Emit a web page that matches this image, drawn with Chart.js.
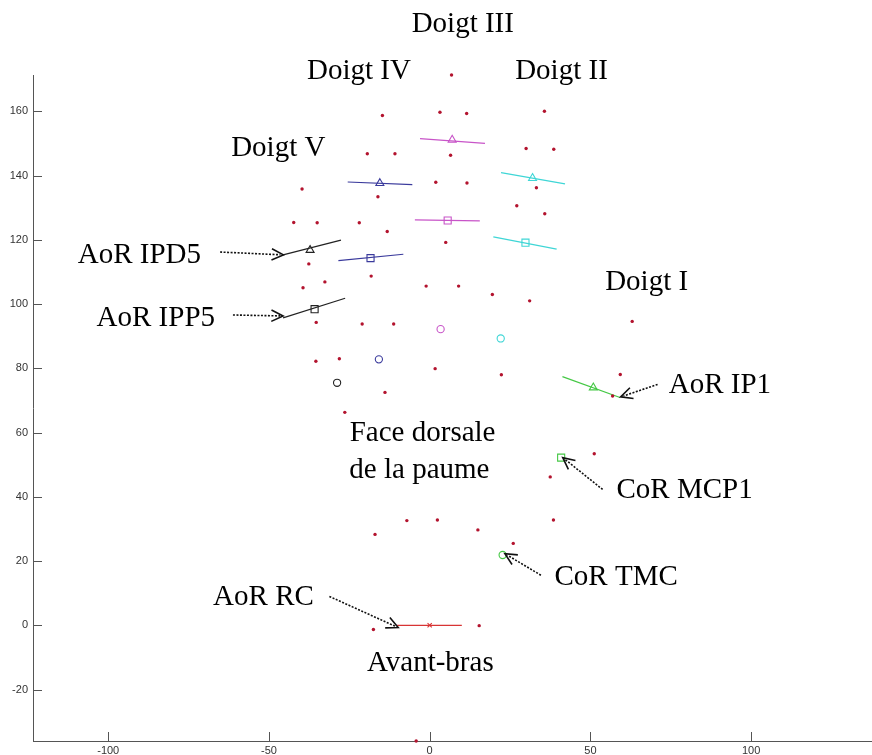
<!DOCTYPE html>
<html>
<head>
<meta charset="utf-8">
<script src="https://cdn.jsdelivr.net/npm/chart.js@4"></script>
<style>
  body { margin: 0; background: #fff; }
  canvas { display: block; }
</style>
</head>
<body>
<canvas id="main" width="872" height="755"></canvas>
<script>
// markers on the back of the hand (red dots)
const dotX = [6.8, -14.7, 3.2, 11.5, 35.7, -19.4, -10.8, 6.5, 30.0, 38.6,
  -16.1, 1.9, 11.6, 33.2, -39.7, 27.1, 35.8, -42.3, -35.0, -21.9,
  -13.2, 5.0, -37.6, -18.2, -39.4, -32.6, -1.1, 9.0, 19.5, 31.1,
  -35.3, -21.0, -11.2, -35.4, -28.1, 1.7, 22.3, -13.9, -26.4, 63.0,
  59.3, 56.9, 51.2, 37.5, -7.1, 2.4, -17.0, 15.0, 38.5, 26.0,
  -17.5, 15.4, -4.2];
const dotY = [171.3, 158.7, 159.7, 159.3, 160.0, 146.8, 146.8, 146.3, 148.4, 148.2,
  133.4, 137.9, 137.7, 136.2, 135.8, 130.6, 128.1, 125.4, 125.3, 125.3,
  122.6, 119.2, 112.5, 108.7, 105.1, 106.9, 105.6, 105.6, 103.0, 101.0,
  94.3, 93.8, 93.8, 82.2, 83.0, 79.9, 78.0, 72.5, 66.3, 94.6,
  78.1, 71.4, 53.4, 46.2, 32.6, 32.8, 28.3, 29.7, 32.8, 25.5,
  -1.3, -0.1, -36.0];

// axes of rotation: centre point and both ends of the axis segment
const aorNames = ['IPD2', 'IPP2', 'IPD3', 'IPP3', 'IPD4', 'IPP4', 'IPD5', 'IPP5', 'IP1', 'RC'];
const aorX = [32.0, 29.8, 7.0, 5.6, -15.5, -18.4, -37.2, -35.8, 50.9, 0];
const aorY = [139.2, 119.1, 151.1, 126.0, 137.6, 114.3, 116.8, 98.4, 74.0, 0];
const aorX1 = [22.2, 19.8, -3.0, -4.6, -25.5, -28.4, -45.6, -45.6, 41.3, -10.1];
const aorY1 = [140.9, 120.9, 151.5, 126.2, 138.0, 113.5, 115.3, 95.7, 77.4, 0];
const aorX2 = [42.1, 39.5, 17.2, 15.6, -5.4, -8.2, -27.6, -26.3, 59.2, 10.0];
const aorY2 = [137.4, 117.1, 150.0, 125.9, 137.2, 115.5, 119.9, 101.8, 70.9, 0];

// centres of rotation
const corNames = ['MCP2', 'MCP3', 'MCP4', 'MCP5', 'MCP1', 'TMC'];
const corX = [22.1, 3.4, -15.8, -28.8, 40.9, 22.7];
const corY = [89.3, 92.2, 82.8, 75.5, 52.2, 21.9];

const xTicks = [-100, -50, 0, 50, 100];
const yTicks = [-20, 0, 20, 40, 60, 80, 100, 120, 140, 160];

// styles
const cyan = '#3fd6d6', magenta = '#c854c8', navy = '#3a3a9c', blackish = '#222222', green = '#45c845', red = '#d83434';
const aorColor = [cyan, cyan, magenta, magenta, navy, navy, blackish, blackish, green, red];
const aorStyle = ['triangle', 'rect', 'triangle', 'rect', 'triangle', 'rect', 'triangle', 'rect', 'triangle', 'crossRot'];
const corColor = [cyan, magenta, navy, blackish, green, green];
const corStyle = ['circle', 'circle', 'circle', 'circle', 'rect', 'circle'];
const markerSize = { triangle: 4.6, rect: 5, circle: 3.6, crossRot: 3 };

const datasets = [];
datasets.push({
  data: dotX.map((x, i) => ({ x: x, y: dotY[i] })),
  pointStyle: 'circle',
  pointRadius: 1.7,
  pointBackgroundColor: '#b3132e',
  pointBorderWidth: 0,
  clip: false
});
aorNames.forEach((name, i) => {
  datasets.push({
    label: 'AoR ' + name,
    data: [{ x: aorX1[i], y: aorY1[i] }, { x: aorX2[i], y: aorY2[i] }],
    showLine: true,
    borderColor: aorColor[i],
    borderWidth: 1.2,
    pointRadius: 0,
    clip: false
  });
  datasets.push({
    data: [{ x: aorX[i], y: aorY[i] }],
    pointStyle: aorStyle[i],
    pointRadius: markerSize[aorStyle[i]],
    pointBorderColor: aorColor[i],
    pointBackgroundColor: 'rgba(0,0,0,0)',
    pointBorderWidth: 1.1,
    clip: false
  });
});
corNames.forEach((name, i) => {
  datasets.push({
    label: 'CoR ' + name,
    data: [{ x: corX[i], y: corY[i] }],
    pointStyle: corStyle[i],
    pointRadius: markerSize[corStyle[i]],
    pointBorderColor: corColor[i],
    pointBackgroundColor: 'rgba(0,0,0,0)',
    pointBorderWidth: 1.1,
    clip: false
  });
});

// labels and dotted arrows, in data units
const notes = [
  { text: 'Doigt III', x: 10.3, y: 186.9 },
  { text: 'Doigt IV', x: -22.0, y: 172.3 },
  { text: 'Doigt II', x: 41.0, y: 172.3 },
  { text: 'Doigt V', x: -47.1, y: 148.6 },
  { text: 'Doigt I', x: 67.5, y: 106.9 },
  { text: 'AoR IPD5', x: -90.3, y: 115.3 },
  { text: 'AoR IPP5', x: -85.2, y: 95.6 },
  { text: 'AoR IP1', x: 90.3, y: 74.8 },
  { text: 'CoR MCP1', x: 79.3, y: 42.1 },
  { text: 'CoR TMC', x: 58.0, y: 15.0 },
  { text: 'AoR RC', x: -51.7, y: 8.7 },
  { text: 'Face dorsale', x: -2.2, y: 59.7 },
  { text: 'de la paume', x: -3.2, y: 48.3 },
  { text: 'Avant-bras', x: 0.2, y: -11.8 }
];
const arrows = [
  { x1: -65.2, y1: 116.2, x2: -45.5, y2: 115.3 },
  { x1: -61.2, y1: 96.6, x2: -45.6, y2: 96.3 },
  { x1: 70.9, y1: 75.0, x2: 59.4, y2: 71.1 },
  { x1: 53.8, y1: 42.3, x2: 41.4, y2: 52.2 },
  { x1: 34.6, y1: 15.6, x2: 23.4, y2: 22.3 },
  { x1: -31.2, y1: 9.0, x2: -9.8, y2: -0.7 }
];

const notesPlugin = {
  id: 'notes',
  afterDatasetsDraw(chart) {
    const ctx = chart.ctx;
    const xs = chart.scales.x, ys = chart.scales.y;
    ctx.save();
    // inward ticks like the original
    ctx.strokeStyle = '#555';
    ctx.lineWidth = 1;
    ctx.beginPath();
    xTicks.forEach(v => {
      const px = Math.round(xs.getPixelForValue(v)) + 0.5;
      ctx.moveTo(px, chart.chartArea.bottom);
      ctx.lineTo(px, chart.chartArea.bottom - 9);
    });
    yTicks.forEach(v => {
      const py = Math.round(ys.getPixelForValue(v)) + 0.5;
      ctx.moveTo(chart.chartArea.left, py);
      ctx.lineTo(chart.chartArea.left + 9, py);
    });
    ctx.stroke();

    ctx.fillStyle = '#000';
    ctx.font = '29px "Liberation Serif", "Times New Roman", serif';
    ctx.textAlign = 'center';
    ctx.textBaseline = 'middle';
    notes.forEach(n => {
      ctx.fillText(n.text, xs.getPixelForValue(n.x), ys.getPixelForValue(n.y));
    });

    ctx.strokeStyle = '#111';
    ctx.lineWidth = 1.6;
    arrows.forEach(a => {
      const x1 = xs.getPixelForValue(a.x1), y1 = ys.getPixelForValue(a.y1);
      const x2 = xs.getPixelForValue(a.x2), y2 = ys.getPixelForValue(a.y2);
      const ang = Math.atan2(y2 - y1, x2 - x1);
      ctx.setLineDash([2, 1.5]);
      ctx.beginPath();
      ctx.moveTo(x1, y1);
      ctx.lineTo(x2 - 3 * Math.cos(ang), y2 - 3 * Math.sin(ang));
      ctx.stroke();
      ctx.setLineDash([]);
      ctx.beginPath();
      const len = 13, spread = 0.45;
      ctx.moveTo(x2 - len * Math.cos(ang - spread), y2 - len * Math.sin(ang - spread));
      ctx.lineTo(x2, y2);
      ctx.lineTo(x2 - len * Math.cos(ang + spread), y2 - len * Math.sin(ang + spread));
      ctx.stroke();
    });
    ctx.restore();
  }
};

const tickFont = { family: '"Liberation Sans", Arial, sans-serif', size: 11 };

new Chart(document.getElementById('main'), {
  type: 'scatter',
  data: { datasets: datasets },
  options: {
    responsive: false,
    animation: false,
    events: [],
    layout: { autoPadding: false, padding: { top: 75, right: 0, left: 0, bottom: 0 } },
    plugins: { legend: { display: false }, tooltip: { enabled: false } },
    scales: {
      x: {
        type: 'linear',
        min: -123.4,
        max: 137.6,
        grid: { display: false, drawTicks: false },
        border: { display: true, color: '#555', width: 1 },
        afterBuildTicks: s => { s.ticks = xTicks.map(v => ({ value: v })); },
        afterFit: s => { s.height = 14; s.paddingLeft = 0; s.paddingRight = 0; },
        ticks: { font: tickFont, color: '#333', padding: 3, maxRotation: 0, autoSkip: false }
      },
      y: {
        type: 'linear',
        min: -36.0,
        max: 171.3,
        grid: { display: false, drawTicks: false },
        border: { display: true, color: '#555', width: 1 },
        afterBuildTicks: s => { s.ticks = yTicks.map(v => ({ value: v })); },
        afterFit: s => { s.width = 33; s.paddingTop = 0; s.paddingBottom = 0; },
        ticks: { font: tickFont, color: '#333', padding: 5, autoSkip: false }
      }
    }
  },
  plugins: [notesPlugin]
});
</script>
</body>
</html>
